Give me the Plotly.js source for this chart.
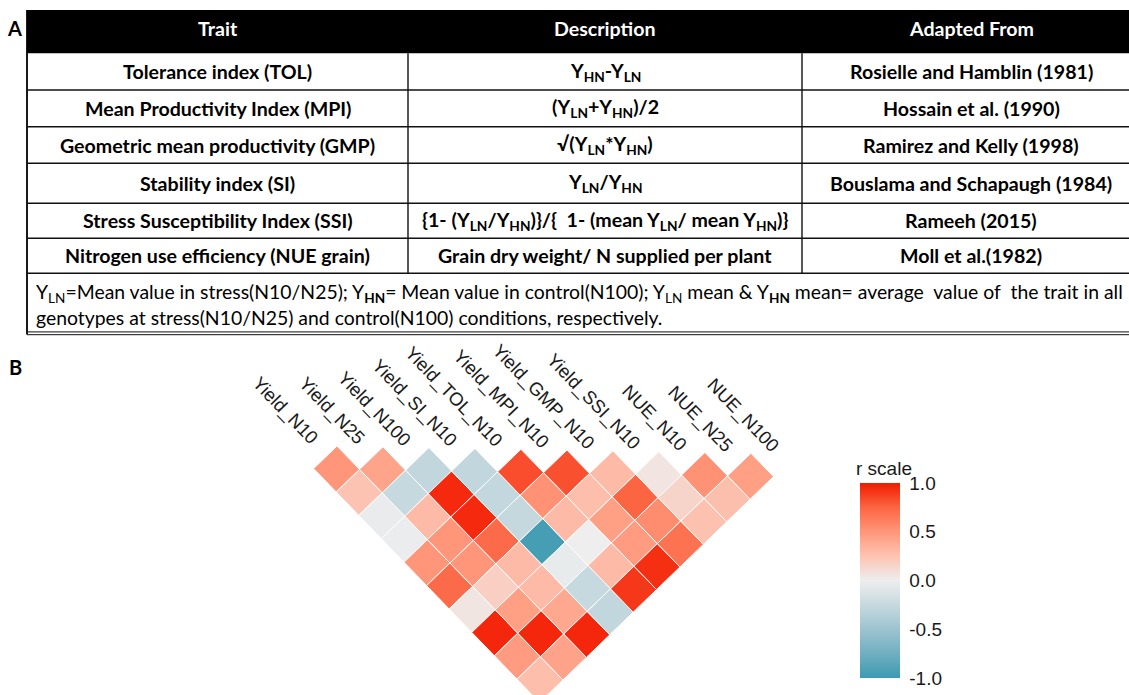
<!DOCTYPE html>
<html>
<head>
<meta charset="utf-8">
<script src="https://cdn.plot.ly/plotly-3.0.1.min.js"></script>
<style>
  html, body { margin: 0; padding: 0; background: #fff; }
  #chart { width: 1129px; height: 695px; }
</style>
</head>
<body>
<div id="chart"></div>
<script>
// ================= DATA =================
// Panel A: table
const tableHeader = ["Trait", "Description", "Adapted From"];
const traitNames = [
  "Tolerance index (TOL)",
  "Mean Productivity Index (MPI)",
  "Geometric mean productivity (GMP)",
  "Stability index (SI)",
  "Stress Susceptibility Index (SSI)",
  "Nitrogen use efficiency (NUE grain)"
];
const traitFormulas = [
  "Y<sub>HN</sub>-Y<sub>LN</sub>",
  "(Y<sub>LN</sub>+Y<sub>HN</sub>)/2",
  "√(Y<sub>LN</sub>*Y<sub>HN</sub>)",
  "Y<sub>LN</sub>/Y<sub>HN</sub>",
  "{1- (Y<sub>LN</sub>/Y<sub>HN</sub>)}/{  1- (mean Y<sub>LN</sub>/ mean Y<sub>HN</sub>)}",
  "Grain dry weight/ N supplied per plant"
];
const traitSources = [
  "Rosielle and Hamblin (1981)",
  "Hossain et al. (1990)",
  "Ramirez and Kelly (1998)",
  "Bouslama and Schapaugh (1984)",
  "Rameeh (2015)",
  "Moll et al.(1982)"
];
const footnoteLines = [
  "Y<sub>LN</sub>=Mean value in stress(N10/N25); Y<sub><b>HN</b></sub>= Mean value in control(N100); Y<sub>LN</sub> mean &amp; Y<sub><b>HN</b></sub> mean= average  value of  the trait in all",
  "genotypes at stress(N10/N25) and control(N100) conditions, respectively."
];

// Panel B: correlation triangle
const variables = ["Yield_N10", "Yield_N25", "Yield_N100", "Yield_SI_N10", "Yield_TOL_N10",
  "Yield_MPI_N10", "Yield_GMP_N10", "Yield_SSI_N10", "NUE_N10", "NUE_N25", "NUE_N100"];
// r(i, j) for every later variable j > i
const rYield_N10     = [0.50, 0.25, -0.03, -0.02, 0.50, 0.72, 0.05, 0.96, 0.47, 0.28];
const rYield_N25     = [0.42, -0.25, 0.30, 0.50, 0.50, 0.18, 0.45, 0.96, 0.43];
const rYield_N100    = [-0.28, 0.95, 0.95, 0.72, 0.30, 0.30, 0.40, 0.96];
const rYield_SI_N10  = [-0.28, -0.27, -0.26, -0.95, -0.04, -0.25, -0.28];
const rYield_TOL_N10 = [0.83, 0.52, 0.30, 0.00, 0.30, 0.90];
const rYield_MPI_N10 = [0.82, 0.28, 0.45, 0.47, 0.93];
const rYield_GMP_N10 = [0.30, 0.75, 0.55, 0.68];
const rYield_SSI_N10 = [0.06, 0.15, 0.26];
const rNUE_N10       = [0.52, 0.27];
const rNUE_N25       = [0.45];
const colorbarTicks = [-1, -0.5, 0, 0.5, 1];
const colorbarTickText = ["-1.0", "-0.5", "0.0", "0.5", "1.0"];
const colorbarTitle = "r scale";

// ================= LAYOUT GEOMETRY (pixels) =================
const W = 1129, H = 695;
const TB = {
  left: 27, right: 1140, top: 10, headBottom: 53.3, headTextY: 28.5,
  colEdges: [27, 408, 802, 1140],
  rowEdges: [53.3, 90, 126.7, 163.3, 203.3, 238.3, 273.3],
  noteBottom: 333.5, noteX: 34, noteY: [293, 317]
};
const GRID = { ox: 314, oy: 445.6, unit: 46.0, tiltDeg: 1.0 };
const FONT_TABLE = "Lato, 'Open Sans', sans-serif";
const FONT_PLOT = "'Liberation Sans', Arial, sans-serif";
const SIZE_TABLE = 19.6, SIZE_NOTE = 19.4, SIZE_LABEL = 18.5, SIZE_LEGEND = 19;

const px = p => p / W;
const py = p => 1 - p / H;

// ================= TABLE (shapes + annotations) =================
const shapes = [];
const annotations = [];
const lineStyle = { color: "#111", width: 1.4 };

shapes.push({ type: "rect", xref: "paper", yref: "paper",
  x0: px(TB.left), x1: px(TB.right), y0: py(TB.headBottom), y1: py(TB.top),
  fillcolor: "#000", line: { width: 0 }, layer: "below" });
shapes.push({ type: "line", xref: "paper", yref: "paper",
  x0: px(TB.left), x1: px(TB.left), y0: py(TB.top), y1: py(TB.noteBottom + 1),
  line: { color: "#000", width: 1.8 } });
[TB.colEdges[1], TB.colEdges[2]].forEach(x => shapes.push({ type: "line", xref: "paper", yref: "paper",
  x0: px(x), x1: px(x), y0: py(TB.headBottom), y1: py(TB.rowEdges[TB.rowEdges.length - 1]), line: lineStyle }));
TB.rowEdges.slice(1).forEach(y => shapes.push({ type: "line", xref: "paper", yref: "paper",
  x0: px(TB.left), x1: px(TB.right), y0: py(y), y1: py(y), line: lineStyle }));
[TB.noteBottom - 1.6, TB.noteBottom + 1.2].forEach(y => shapes.push({ type: "line", xref: "paper", yref: "paper",
  x0: px(TB.left), x1: px(TB.right), y0: py(y), y1: py(y), line: { color: "#111", width: 1 } }));

tableHeader.forEach((t, c) => annotations.push({
  xref: "paper", yref: "paper", showarrow: false,
  x: px((TB.colEdges[c] + TB.colEdges[c + 1]) / 2), y: py(TB.headTextY),
  xanchor: "center", yanchor: "middle",
  text: "<b>" + t + "</b>", font: { family: FONT_TABLE, size: SIZE_TABLE, color: "#fff" }
}));
const columns = [traitNames, traitFormulas, traitSources];
columns.forEach((col, c) => col.forEach((t, r) => annotations.push({
  xref: "paper", yref: "paper", showarrow: false,
  x: px((TB.colEdges[c] + TB.colEdges[c + 1]) / 2),
  y: py((TB.rowEdges[r] + TB.rowEdges[r + 1]) / 2),
  xanchor: "center", yanchor: "middle",
  text: "<b>" + t + "</b>", font: { family: FONT_TABLE, size: SIZE_TABLE, color: "#000" }
})));
footnoteLines.forEach((t, k) => annotations.push({
  xref: "paper", yref: "paper", showarrow: false,
  x: px(TB.noteX), y: py(TB.noteY[k]), xanchor: "left", yanchor: "middle",
  text: t, font: { family: FONT_TABLE, size: SIZE_NOTE, color: "#000" }
}));
[["A", 14, 28], ["B", 15, 367]].forEach(([t, x, y]) => annotations.push({
  xref: "paper", yref: "paper", showarrow: false, x: px(x), y: py(y),
  xanchor: "center", yanchor: "middle",
  text: "<b>" + t + "</b>", font: { family: FONT_TABLE, size: 20, color: "#000" }
}));

// ================= CORRELATION TRIANGLE =================
const rByVar = [rYield_N10, rYield_N25, rYield_N100, rYield_SI_N10, rYield_TOL_N10,
  rYield_MPI_N10, rYield_GMP_N10, rYield_SSI_N10, rNUE_N10, rNUE_N25];
const th = GRID.tiltDeg * Math.PI / 180, cs = Math.cos(th), sn = Math.sin(th);
const toX = (a, d) => a * cs - d * sn;
const toY = (a, d) => -(a * sn + d * cs);

const cx = [], cy = [], cr = [], ctext = [];
for (let i = 0; i < variables.length; i++) {
  for (let j = i + 1; j < variables.length; j++) {
    const r = rByVar[i][j - i - 1];
    const a = (i + j) / 2, d = (j - i) / 2;
    cx.push(toX(a, d)); cy.push(toY(a, d)); cr.push(r);
    ctext.push(variables[i] + " × " + variables[j] + ": " + r.toFixed(2));
  }
}

variables.forEach((v, k) => annotations.push({
  xref: "x", yref: "y", x: toX(k, 0), y: toY(k, 0), showarrow: false,
  xanchor: "right", yanchor: "bottom", textangle: 45 + GRID.tiltDeg,
  xshift: 12, yshift: -6,
  text: v, font: { family: FONT_PLOT, size: SIZE_LABEL, color: "#1a1a1a" }
}));

annotations.push({
  xref: "paper", yref: "paper", showarrow: false, x: px(854), y: py(468),
  xanchor: "left", yanchor: "middle",
  text: colorbarTitle, font: { family: FONT_PLOT, size: SIZE_LEGEND, color: "#1a1a1a" }
});

const colorscale = [
  [0, "#3B9AB2"], [0.125, "#71AFC1"], [0.25, "#9DC3D0"], [0.375, "#C6D9DF"],
  [0.5, "#EEEEEE"], [0.625, "#FDC3B2"], [0.75, "#FF9679"], [0.875, "#FC6542"], [1, "#F21A00"]
];

const trace = {
  type: "scatter", mode: "markers", x: cx, y: cy, text: ctext, hoverinfo: "text",
  marker: {
    symbol: "diamond", size: (GRID.unit / 2) / 0.65, angle: GRID.tiltDeg,
    color: cr, cmin: -1, cmax: 1, colorscale: colorscale,
    line: { color: "#ffffff", width: 1 },
    colorbar: {
      x: px(860), xanchor: "left", xpad: 0,
      y: py(580.5), yanchor: "middle", ypad: 0,
      len: 195, lenmode: "pixels", thickness: 40, thicknessmode: "pixels",
      outlinewidth: 0,
      tickvals: colorbarTicks, ticktext: colorbarTickText,
      ticks: "outside", ticklen: 6, tickcolor: "#ffffff", tickwidth: 1,
      tickfont: { family: FONT_PLOT, size: SIZE_LEGEND, color: "#1a1a1a" }
    }
  },
  showlegend: false
};

const layout = {
  width: W, height: H,
  margin: { l: 0, r: 0, t: 0, b: 0, pad: 0 },
  paper_bgcolor: "#fff", plot_bgcolor: "rgba(0,0,0,0)",
  xaxis: { domain: [0, 1], range: [(0 - GRID.ox) / GRID.unit, (W - GRID.ox) / GRID.unit],
    visible: false, fixedrange: true },
  yaxis: { domain: [0, 1], range: [-(H - GRID.oy) / GRID.unit, GRID.oy / GRID.unit],
    visible: false, fixedrange: true },
  shapes: shapes,
  annotations: annotations,
  showlegend: false
};

Plotly.newPlot("chart", [trace], layout, { displayModeBar: false });
</script>
</body>
</html>
